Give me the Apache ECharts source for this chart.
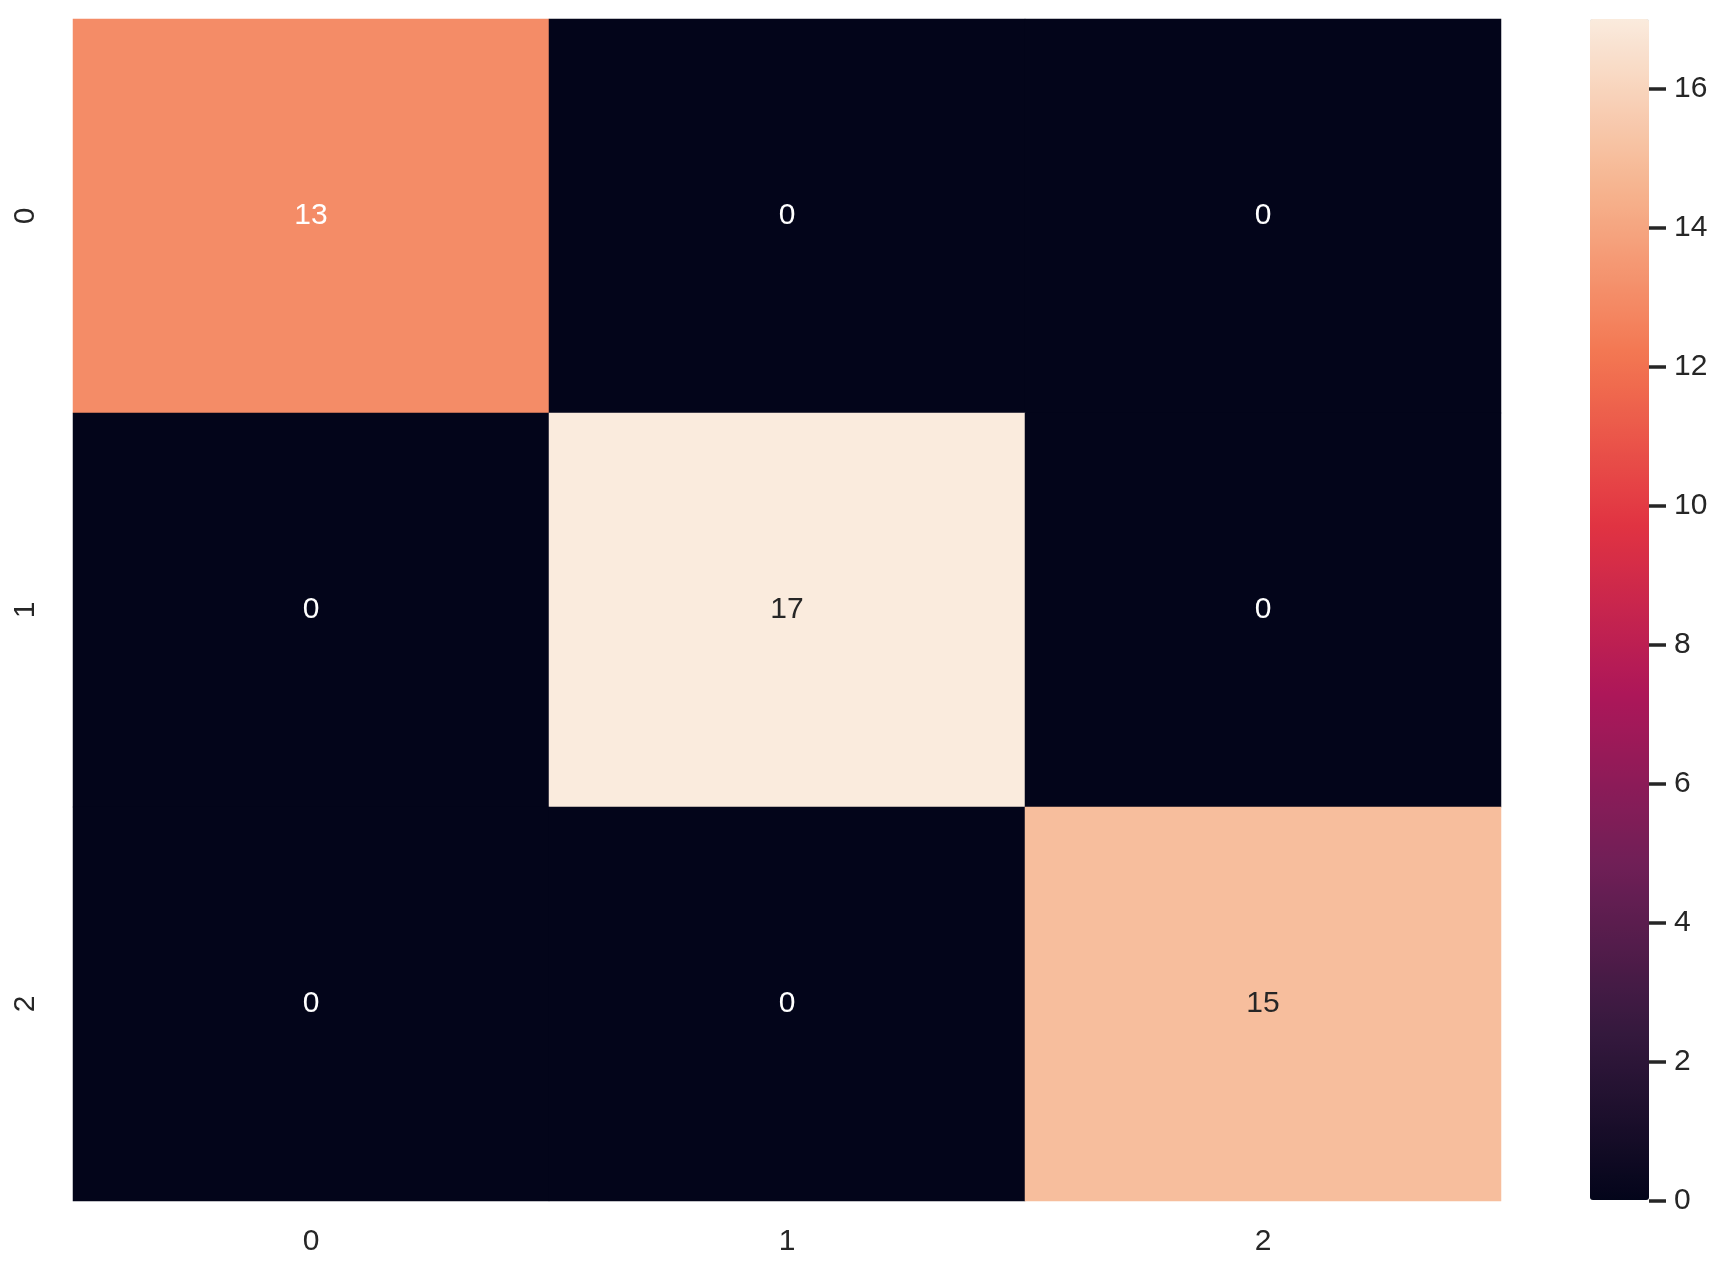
<!DOCTYPE html>
<html>
<head>
<meta charset="utf-8">
<script src="https://cdn.jsdelivr.net/npm/echarts@6/dist/echarts.min.js"></script>
<style>
html,body{margin:0;padding:0;background:#fff;}
#chart{width:1726px;height:1274px;}
</style>
</head>
<body>
<div id="chart"></div>
<script>
const xCategories = ['0', '1', '2'];
const yCategories = ['0', '1', '2'];
const matrix = [
  [13, 0, 0],
  [0, 17, 0],
  [0, 0, 15]
];
const colorMin = 0;
const colorMax = 17;
const colorbarTicks = [0, 2, 4, 6, 8, 10, 12, 14, 16];

const rocket = ['#03051A', '#35193E', '#701F57', '#AD1759', '#E13342', '#F37651', '#F6B48F', '#FAEBDD'];
const FONT = '"Liberation Sans", Arial, sans-serif';
const TEXT = '#262626';

function hexToRgb(h){h=h.replace('#','');return [0,2,4].map(i=>parseInt(h.substr(i,2),16));}
function colorAt(v){
  let t=(v-colorMin)/(colorMax-colorMin); t=Math.max(0,Math.min(1,t));
  const n=rocket.length-1; const i=Math.min(n-1,Math.floor(t*n)); const f=t*n-i;
  const a=hexToRgb(rocket[i]), b=hexToRgb(rocket[i+1]);
  return a.map((c,k)=>c+(b[k]-c)*f);
}
function lum(rgb){
  const c=rgb.map(x=>{x/=255;return x<=0.03928?x/12.92:Math.pow((x+0.055)/1.055,2.4);});
  return 0.2126*c[0]+0.7152*c[1]+0.0722*c[2];
}

const data=[];
matrix.forEach((row,r)=>row.forEach((v,c)=>{
  const dark = lum(colorAt(v))>0.408;
  data.push({value:[c,r,v],label:{color:dark?TEXT:'#ffffff'}});
}));

const chart = echarts.init(document.getElementById('chart'));
chart.setOption({
  backgroundColor:'#ffffff',
  animation:false,
  grid:[
    {left:73, top:19, right:225, bottom:73},
    {left:1590, top:19, width:59, bottom:73}
  ],
  xAxis:[
    {type:'category', data:xCategories, gridIndex:0, axisLine:{show:false}, axisTick:{show:false}, splitLine:{show:false},
     axisLabel:{fontSize:30, color:TEXT, fontFamily:FONT, margin:26}},
    {type:'value', gridIndex:1, min:0, max:1, axisLine:{show:false}, axisTick:{show:false}, axisLabel:{show:false}, splitLine:{show:false}}
  ],
  yAxis:[
    {type:'category', data:yCategories, inverse:true, gridIndex:0, axisLine:{show:false}, axisTick:{show:false}, splitLine:{show:false},
     axisLabel:{fontSize:30, color:TEXT, fontFamily:FONT, rotate:90, margin:32}},
    {type:'value', gridIndex:1, position:'right', min:colorMin, max:colorMax, z:20,
     axisLine:{show:true, onZero:false, lineStyle:{color:'rgba(0,0,0,0)', width:1}}, splitLine:{show:false},
     axisTick:{show:true, length:17, inside:false, customValues:colorbarTicks, lineStyle:{color:TEXT, width:3.5}},
     axisLabel:{fontSize:30, color:TEXT, fontFamily:FONT, margin:25, customValues:colorbarTicks}}
  ],
  visualMap:{
    type:'continuous', min:colorMin, max:colorMax, calculable:false, seriesIndex:0,
    left:1590, top:19, itemWidth:59, itemHeight:1181, padding:0, text:null, showLabel:false,
    inRange:{color:rocket}, hoverLink:false
  },
  series:[{
    type:'heatmap', xAxisIndex:0, yAxisIndex:0, data:data,
    label:{show:true, fontSize:30, fontFamily:FONT, formatter:p=>String(p.value[2])},
    itemStyle:{borderWidth:0}
  }]
});
</script>
</body>
</html>
